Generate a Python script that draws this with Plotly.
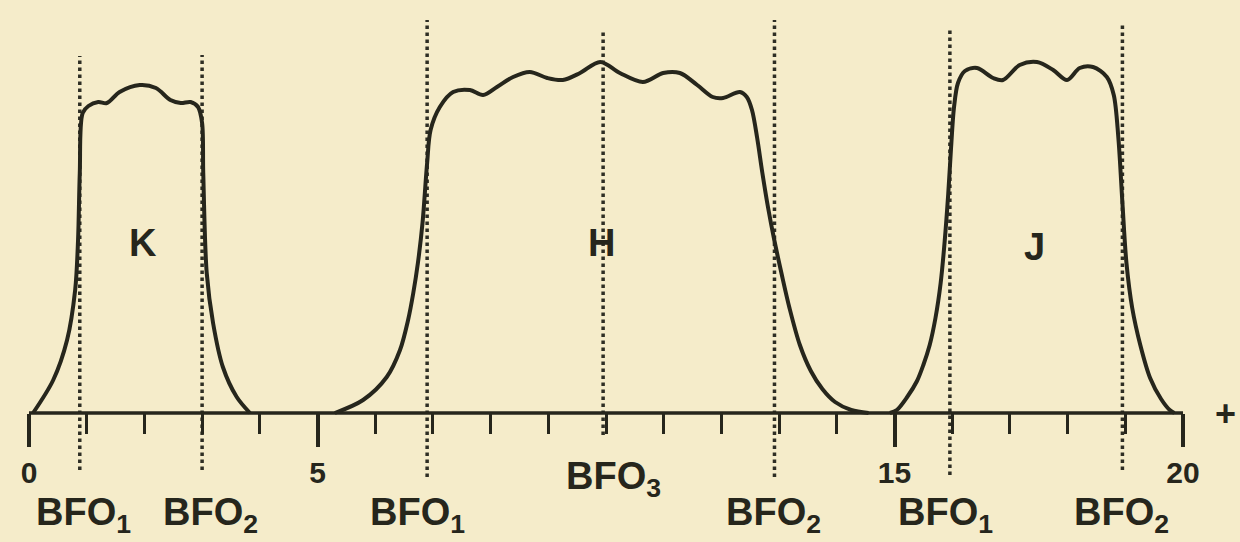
import plotly.graph_objects as go

# ---------------- data ----------------
k_x = [0.07, 0.42, 0.66, 0.80, 0.85, 0.88, 0.93, 1.03, 1.20, 1.35, 1.57, 1.92, 2.20, 2.45, 2.63, 2.80, 2.93, 3.00, 3.02, 3.08, 3.19, 3.36, 3.60, 3.83]
k_y = [0, 33, 73, 123, 173, 240, 300, 307, 311, 310, 321, 328, 325, 313, 310, 311, 306, 290, 240, 140, 90, 46, 16, 0]

h_x = [5.30, 5.79, 6.20, 6.43, 6.57, 6.66, 6.74, 6.82, 6.90, 6.96, 7.12, 7.35, 7.64, 7.87, 8.11, 8.39, 8.68, 8.98, 9.25, 9.55, 9.90,
       10.24, 10.64, 10.99, 11.28, 11.58, 11.85, 12.03, 12.32, 12.44, 12.53, 12.62, 12.71, 12.81, 12.92, 13.04, 13.18, 13.36, 13.55,
       13.75, 13.97, 14.25, 14.55]
h_y = [0, 13, 36, 63, 93, 120, 150, 190, 250, 283, 306, 321, 323, 318, 326, 336, 341, 335, 333, 340, 351,
       340, 331, 340, 340, 328, 316, 315, 321, 316, 303, 275, 240, 205, 172, 140, 105, 68, 42,
       24, 11, 3, 0]

j_x = [14.92, 15.04, 15.22, 15.39, 15.50, 15.61, 15.71, 15.80, 15.87, 15.93, 15.98, 16.03, 16.10, 16.22, 16.43, 16.71, 16.88, 17.17, 17.47,
       17.75, 17.99, 18.21, 18.44, 18.68, 18.80, 18.88, 18.95, 19.02, 19.12, 19.26, 19.43, 19.62, 19.77, 19.85]
j_y = [0, 3, 16, 32, 48, 68, 95, 130, 172, 218, 265, 305, 330, 342, 345, 335, 333, 348, 351,
       343, 333, 345, 346, 336, 318, 275, 210, 150, 105, 68, 35, 14, 3, 0]

bfo_x = [0.88, 3.00, 6.90, 9.95, 12.92, 15.96, 18.95]
bfo_top = [357, 358, 393, 383, 393, 383, 388]
bfo_bottom = [-57, -57, -64, -22, -64, -62, -57]
bfo_labels = ["BFO<sub>1</sub>", "BFO<sub>2</sub>", "BFO<sub>1</sub>", "BFO<sub>3</sub>",
              "BFO<sub>2</sub>", "BFO<sub>1</sub>", "BFO<sub>2</sub>"]

band_names = ["K", "H", "J"]
band_label_x = [1.98, 9.93, 17.43]
band_label_y = [170, 170, 166]

major_ticks = [0, 5, 15, 20]
major_labels = ["0", "5", "15", "20"]
minor_ticks = [1, 2, 3, 4, 6, 7, 8, 9, 10, 11, 12, 13, 14, 16, 17, 18, 19]
axis_x = [0, 20]
axis_y = [0, 0]

# ---------------- style ----------------
INK = "#26261c"
DOT = "#2e2e24"
BG = "#f5ecca"
FONT = "Liberation Sans"

fig = go.Figure()

# dotted BFO lines
for x, t, b in zip(bfo_x, bfo_top, bfo_bottom):
    fig.add_trace(go.Scatter(x=[x, x], y=[b, t], mode="lines",
                             line=dict(color=DOT, width=3.5, dash="dot"),
                             hoverinfo="skip", showlegend=False))

# baseline
fig.add_trace(go.Scatter(x=axis_x, y=axis_y, mode="lines",
                         line=dict(color=INK, width=3.5), showlegend=False, hoverinfo="skip"))

# passbands
for xs, ys, nm in [(k_x, k_y, "K"), (h_x, h_y, "H"), (j_x, j_y, "J")]:
    fig.add_trace(go.Scatter(x=xs, y=ys, mode="lines", name=nm,
                             line=dict(color=INK, width=4, shape="spline", smoothing=0.9),
                             showlegend=False))

annotations = []
label_dx = [-2, 2, -16, 4, -7, -10, -7]
for x, lab, dx in zip(bfo_x, bfo_labels, label_dx):
    is3 = "3" in lab
    annotations.append(dict(x=x, y=(-63 if is3 else -99), xref="x", yref="y", text=lab,
                            showarrow=False, xanchor="center", yanchor="middle", xshift=dx + 6,
                            yshift=-3,
                            font=dict(family=FONT, size=38, color=INK, weight="bold")))
for nm, x, y in zip(band_names, band_label_x, band_label_y):
    annotations.append(dict(x=x, y=y, xref="x", yref="y", text=nm, showarrow=False,
                            font=dict(family=FONT, size=38, color=INK, weight="bold")))
annotations.append(dict(x=20.73, y=0, xref="x", yref="y", text="+", showarrow=False,
                        font=dict(family=FONT, size=36, color=INK, weight="bold")))

fig.update_layout(
    width=1240, height=542,
    margin=dict(l=0, r=0, t=0, b=0),
    paper_bgcolor=BG, plot_bgcolor=BG,
    annotations=annotations,
    xaxis=dict(range=[-29 / 57.7, (1240 - 29) / 57.7], showgrid=False, zeroline=False,
               showline=False, anchor="free", position=129 / 542,
               tickmode="array", tickvals=major_ticks, ticktext=major_labels,
               ticks="outside", ticklen=33, tickwidth=3.5, tickcolor=INK,
               tickfont=dict(family=FONT, size=30, color=INK, weight="bold"),
               ticklabelstandoff=0,
               minor=dict(tickmode="array", tickvals=minor_ticks, ticks="outside",
                          ticklen=20, tickwidth=3, tickcolor=INK, showgrid=False)),
    yaxis=dict(range=[-129, 413], visible=False, showgrid=False, zeroline=False),
)

fig.write_html("out.html")
